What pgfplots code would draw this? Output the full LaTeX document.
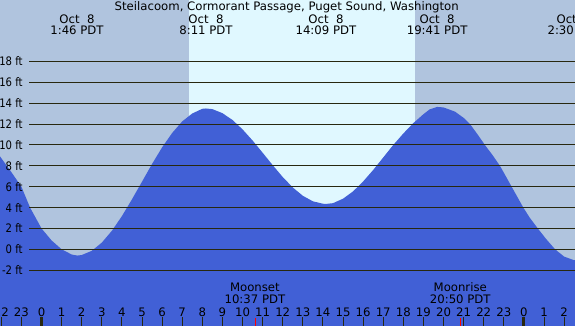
\documentclass[border=0pt]{standalone}
\usepackage{graphicx}
\usepackage{pgfplots}
\pgfplotsset{compat=1.18}
\usepackage{fontspec}
\setmainfont{DejaVu Sans}
\definecolor{night}{RGB}{176,196,222}
\definecolor{day}{RGB}{224,248,255}
\definecolor{tide}{RGB}{65,96,214}
\definecolor{txt}{RGB}{51,51,0}
\definecolor{ln}{RGB}{40,40,15}
\newcommand{\lblfont}{\fontsize{11.7bp}{13bp}\selectfont}
\begin{document}
\lblfont
\begin{tikzpicture}[font=\lblfont]
\begin{axis}[at={(0,0)}, anchor=south west, width=575bp, height=326bp, scale only axis,
 xmin=-2.065, xmax=26.542, ymin=-7.354, ymax=23.90,
 axis background/.style={fill=night},
 axis line style={draw=none},
 ytick=\empty,
 xtick={-2,...,26}, xticklabels={}, xtick pos=left, tick align=inside,
 major tick length=9bp, tick style={draw=ln, line width=1bp},
 extra x ticks={0,24}, extra x tick labels={}, extra x tick style={major tick style={draw=ln, line width=3bp}},
 axis on top,
 every node/.append style={font=\lblfont, text=txt, inner sep=0pt}]
% daylight
\addplot[fill=day, draw=none] coordinates {(7.32,-8) (7.32,25) (18.58,25) (18.58,-8)} -- cycle;
% tide
\addplot[fill=tide, draw=none] coordinates {
(-2.1,-8) (-2.1,9.0) (-1.5,7.4) (-1.0,6.0) (-0.57,4.0) (0,2.0) (0.5,0.85) (1.0,0.0) (1.5,-0.5) (1.77,-0.6)
(2.0,-0.55) (2.5,-0.15) (3.0,0.64) (3.5,1.77) (4.0,3.18) (4.5,4.79) (5.0,6.48) (5.5,8.18) (6.0,9.77) (6.5,11.15) (7.0,12.26) (7.5,13.02) (8.0,13.47) (8.18,13.5)
(8.5,13.44) (9.0,13.05) (9.5,12.4) (10,11.5) (10.5,10.43) (11,9.26) (11.5,8.07) (12,6.93) (12.5,5.93) (13,5.13) (13.5,4.6) (14,4.37) (14.15,4.35)
(14.5,4.42) (15.0,4.85) (15.5,5.55) (16.0,6.5) (16.5,7.6) (17.0,8.8) (17.5,10.0) (18.0,11.1) (18.5,12.1) (19.0,12.95) (19.3,13.4) (19.68,13.65)
(20.0,13.6) (20.57,13.2) (21.0,12.6) (21.32,12.0) (21.7,11.0) (22.06,10.0) (22.45,9.0) (22.81,8.0) (23.1,7.0) (23.39,6.0) (23.68,5.0) (23.97,4.0) (24.3,3.0) (24.69,2.0) (25.1,1.0) (25.55,0.0) (26.0,-0.7) (26.5,-1.05) (26.6,-1.05) (26.6,-8)
} -- cycle;
% level lines
\pgfplotsinvokeforeach{-2,0,...,18}{
 \addplot[ln, line width=1bp] coordinates {(-0.607,#1) (26.7,#1)};
 \node[anchor=east] at (axis cs:-0.736,#1) {\scalebox{0.86}[1]{#1 ft}};
}
% moon ticks
\addplot[red, line width=0.8bp] coordinates {(10.617,-7.5) (10.617,-6.58)};
\addplot[red, line width=0.8bp] coordinates {(20.833,-7.5) (20.833,-6.58)};
% hour labels
\foreach \h/\l in {-2/22,-1/23,0/0,1/1,2/2,3/3,4/4,5/5,6/6,7/7,8/8,9/9,10/10,11/11,12/12,13/13,14/14,15/15,16/16,17/17,18/18,19/19,20/20,21/21,22/22,23/23,24/0,25/1,26/2}{
 \edef\temp{\noexpand\node[anchor=base] at (axis cs:\h,-6.40) {\l};}\temp
}
% title and tide labels
\node[anchor=base] at (axis cs:12.2,22.85) {Steilacoom, Cormorant Passage, Puget Sound, Washington};
\node[anchor=base] at (axis cs:1.767,21.67) {Oct\ \ 8};
\node[anchor=base] at (axis cs:1.767,20.55) {1:46 PDT};
\node[anchor=base] at (axis cs:8.183,21.67) {Oct\ \ 8};
\node[anchor=base] at (axis cs:8.183,20.55) {8:11 PDT};
\node[anchor=base] at (axis cs:14.15,21.67) {Oct\ \ 8};
\node[anchor=base] at (axis cs:14.15,20.55) {14:09 PDT};
\node[anchor=base] at (axis cs:19.683,21.67) {Oct\ \ 8};
\node[anchor=base] at (axis cs:19.683,20.55) {19:41 PDT};
\node[anchor=base] at (axis cs:26.5,21.67) {Oct\ \ 9};
\node[anchor=base] at (axis cs:26.5,20.55) {2:30 PDT};
% moon labels
\node[anchor=base] at (axis cs:10.617,-4.07) {Moonset};
\node[anchor=base] at (axis cs:10.617,-5.24) {10:37 PDT};
\node[anchor=base] at (axis cs:20.833,-4.07) {Moonrise};
\node[anchor=base] at (axis cs:20.833,-5.24) {20:50 PDT};
\end{axis}
\pgfresetboundingbox
\path[use as bounding box] (0,0) rectangle (575bp,326bp);
\end{tikzpicture}
\end{document}
